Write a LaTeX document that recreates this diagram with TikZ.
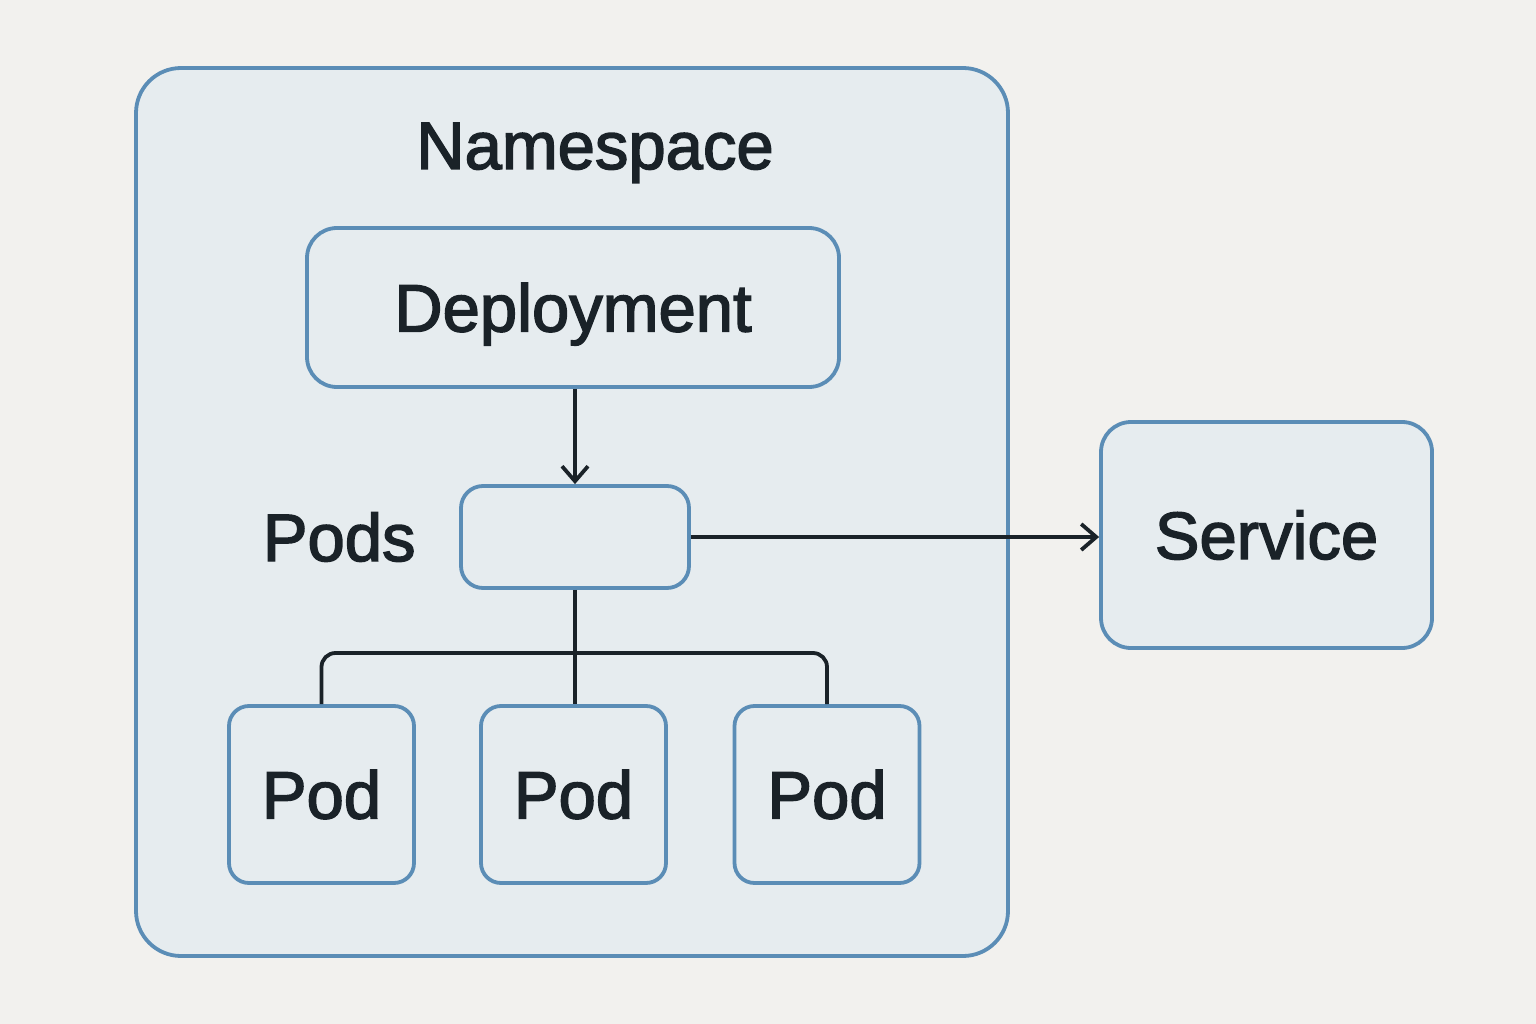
\documentclass[tikz,border=0pt]{standalone}
\usepackage{fontspec}
\setmainfont{Liberation Sans}[FakeBold=2.2]
\usetikzlibrary{arrows.meta,positioning}
\definecolor{bgcol}{HTML}{F2F1EE}
\definecolor{boxfill}{HTML}{E6ECEF}
\definecolor{boxline}{HTML}{5B8DB6}
\definecolor{inkcol}{HTML}{1A2228}

\begin{document}
\begin{tikzpicture}[
  x=1pt, y=-1pt,
  every node/.style={font=\fontsize{67}{80}\selectfont, text=inkcol,
                     text height=48pt, text depth=0pt},
  box/.style={rectangle, rounded corners=22pt, draw=boxline, line width=3.8pt,
              fill=boxfill, inner sep=0pt},
  podbox/.style={box, rounded corners=20pt, minimum width=185pt, minimum height=177pt},
  conn/.style={draw=inkcol, line width=3.8pt},
  ar/.style={conn, -{Straight Barb[length=15pt, width=26pt, line width=3.8pt]}}
]
% page and margins
\fill[bgcol] (0,0) rectangle (1536,1024);
\useasboundingbox (0,0) rectangle (1536,1024);

\node[box, rounded corners=45pt, minimum width=872pt, minimum height=888pt]
      (ns) at (572,512) {};
\node (nslabel) at (595,145) {Namespace};

\node[box, rounded corners=30pt, minimum width=532pt, minimum height=159pt]
      (deploy) at (573,307.5) {Deployment};
\node[box, minimum width=228pt, minimum height=102pt] (pods) at (575,537) {};
\node[left=40pt of pods] (podslabel) {Pods};

\node[box, rounded corners=30pt, minimum width=331pt, minimum height=226pt]
      (svc) at (1266.5,535) {Service};

\node[podbox] (pod1) at (321.5,794.5) {Pod};
\node[podbox] (pod2) at (573.5,794.5) {Pod};
\node[podbox] (pod3) at (827,794.5) {Pod};

\coordinate (bar) at (574,653);

\draw[ar] (deploy.south -| pods.north) -- (pods.north);
\draw[ar] (pods.east) -- (pods.east -| svc.west);
\draw[conn] (pods.south) -- (pod2.north -| pods.south);
\draw[conn, rounded corners=14pt] (pod1.north) |- (bar) -| (pod3.north);
\end{tikzpicture}
\end{document}
